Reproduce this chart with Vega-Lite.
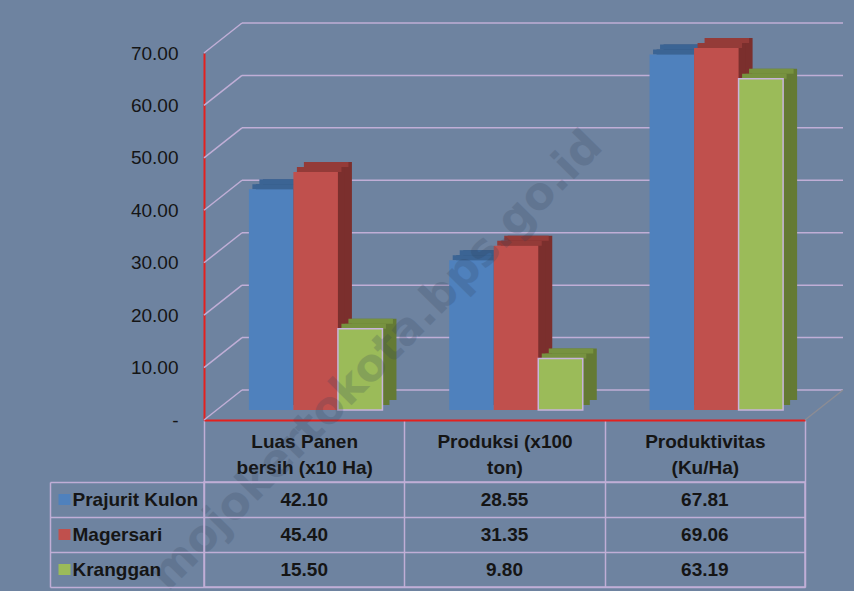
{
  "$schema": "https://vega.github.io/schema/vega-lite/v6.json",
  "background": "#6e83a0",
  "padding": {"left": 48, "top": 22, "right": 10, "bottom": 4},
  "bounds": "flush",
  "spacing": 62,
  "config": {
    "font": "Liberation Sans, sans-serif",
    "axis": {"labelFont": "Liberation Sans, sans-serif"}
  },
  "datasets": {
    "vals": [
      {"kategori": "Luas Panen bersih (x10 Ha)", "desa": "Prajurit Kulon", "nilai": 42.10},
      {"kategori": "Luas Panen bersih (x10 Ha)", "desa": "Magersari", "nilai": 45.40},
      {"kategori": "Luas Panen bersih (x10 Ha)", "desa": "Kranggan", "nilai": 15.50},
      {"kategori": "Produksi (x100 ton)", "desa": "Prajurit Kulon", "nilai": 28.55},
      {"kategori": "Produksi (x100 ton)", "desa": "Magersari", "nilai": 31.35},
      {"kategori": "Produksi (x100 ton)", "desa": "Kranggan", "nilai": 9.80},
      {"kategori": "Produktivitas (Ku/Ha)", "desa": "Prajurit Kulon", "nilai": 67.81},
      {"kategori": "Produktivitas (Ku/Ha)", "desa": "Magersari", "nilai": 69.06},
      {"kategori": "Produktivitas (Ku/Ha)", "desa": "Kranggan", "nilai": 63.19}
    ],
    "grid": [{"v": 0}, {"v": 10}, {"v": 20}, {"v": 30}, {"v": 40}, {"v": 50}, {"v": 60}, {"v": 70}]
  },
  "vconcat": [
    {
      "width": 601,
      "height": 367,
      "view": {"stroke": null},
      "resolve": {"scale": {"color": "independent", "xOffset": "independent"}},
      "layer": [
        {
          "data": {"name": "grid"},
          "mark": {"type": "rule", "color": "#c0aed6", "strokeWidth": 1.5, "x2Offset": 138.17, "yOffset": -30, "y2Offset": -30},
          "encoding": {
            "x": {"datum": "Luas Panen bersih (x10 Ha)", "type": "nominal", "bandPosition": 0.1897, "title": null,
              "scale": {"domain": ["Luas Panen bersih (x10 Ha)", "Produksi (x100 ton)", "Produktivitas (Ku/Ha)"], "paddingInner": 0, "paddingOuter": 0},
              "axis": {"title": null, "labelAngle": 0, "labelFontSize": 19, "labelFontWeight": "bold", "labelColor": "#151515",
                "labelExpr": "datum.extra ? '' : datum.value == 'Luas Panen bersih (x10 Ha)' ? ['Luas Panen', 'bersih (x10 Ha)'] : datum.value == 'Produksi (x100 ton)' ? ['Produksi (x100', 'ton)'] : datum.value == 'Produktivitas (Ku/Ha)' ? ['Produktivitas', '(Ku/Ha)'] : ''",
                "labelLineHeight": 26, "labelPadding": -50, "labelBaseline": "top",
                "tickBand": "extent", "tickSize": 62, "tickColor": "#c0aed6", "tickWidth": 1.5,
                "domainColor": "#e3211e", "domainWidth": 2}},
            "x2": {"datum": "Produktivitas (Ku/Ha)"},
            "y": {"field": "v", "type": "quantitative", "title": null, "scale": {"domain": [0, 70], "nice": false},
              "axis": {"title": null, "values": [0, 10, 20, 30, 40, 50, 60, 70], "format": ".2f",
                "labelExpr": "datum.value == 0 ? '-' : datum.label", "labelFlush": false,
                "grid": false, "ticks": false, "domainColor": "#e3211e", "domainWidth": 2,
                "labelFontSize": 19, "labelColor": "#151515", "labelPadding": 26, "labelBaseline": "middle", "labelDy": 7.5}},
            "y2": {"field": "v"}
          }
        },
        {
          "data": {"name": "grid"},
          "mark": {"type": "rule", "color": "#c0aed6", "strokeWidth": 1.5, "x2Offset": -62.17, "y2Offset": -30},
          "encoding": {
            "x": {"datum": "Luas Panen bersih (x10 Ha)", "type": "nominal", "bandPosition": 0, "title": null},
            "x2": {"datum": "Luas Panen bersih (x10 Ha)"},
            "y": {"field": "v", "type": "quantitative", "title": null},
            "y2": {"field": "v"}
          }
        },
        {
          "data": {"values": [{"v": 0}]},
          "mark": {"type": "rule", "color": "#8c8c94", "strokeWidth": 1.5, "x2Offset": 138.17, "y2Offset": -30},
          "encoding": {
            "x": {"datum": "Produktivitas (Ku/Ha)", "type": "nominal", "bandPosition": 1, "title": null},
            "x2": {"datum": "Produktivitas (Ku/Ha)"},
            "y": {"field": "v", "type": "quantitative", "title": null},
            "y2": {"field": "v"}
          }
        },
        {
          "data": {"name": "vals"},
          "mark": {"type": "bar", "yOffset": -20, "y2Offset": -20},
          "encoding": {
            "x": {"field": "kategori", "type": "nominal", "title": null},
            "xOffset": {"field": "desa", "type": "nominal", "scale": {"domain": ["Prajurit Kulon", "Magersari", "Kranggan"], "paddingInner": 0, "paddingOuter": 0.75, "align": 0.8818}},
            "y": {"field": "nilai", "type": "quantitative", "title": null},
            "color": {"field": "desa", "type": "nominal", "legend": null, "scale": {"domain": ["Prajurit Kulon", "Magersari", "Kranggan"], "range": ["#325581", "#7b2f2d", "#647a34"]}}
          }
        },
        {
          "data": {"name": "vals"},
          "mark": {"type": "bar", "yOffset": -15, "y2Offset": -15},
          "encoding": {
            "x": {"field": "kategori", "type": "nominal", "title": null},
            "xOffset": {"field": "desa", "type": "nominal", "scale": {"domain": ["Prajurit Kulon", "Magersari", "Kranggan"], "paddingInner": 0, "paddingOuter": 0.75, "align": 0.777}},
            "y": {"field": "nilai", "type": "quantitative", "title": null},
            "color": {"field": "desa", "type": "nominal", "legend": null, "scale": {"domain": ["Prajurit Kulon", "Magersari", "Kranggan"], "range": ["#325581", "#7b2f2d", "#647a34"]}}
          }
        },
        {
          "data": {"name": "vals"},
          "mark": {"type": "bar", "yOffset": -20, "y2Offset": -15},
          "encoding": {
            "x": {"field": "kategori", "type": "nominal", "title": null},
            "xOffset": {"field": "desa", "type": "nominal", "scale": {"domain": ["Prajurit Kulon", "Magersari", "Kranggan"], "paddingInner": 0, "paddingOuter": 0.75, "align": 0.8294}},
            "y": {"field": "nilai", "type": "quantitative", "title": null},
            "y2": {"field": "nilai"},
            "color": {"field": "desa", "type": "nominal", "legend": null, "scale": {"domain": ["Prajurit Kulon", "Magersari", "Kranggan"], "range": ["#3b6494", "#943b38", "#77923f"]}}
          }
        },
        {
          "data": {"name": "vals"},
          "mark": {"type": "bar", "yOffset": -15, "y2Offset": -10},
          "encoding": {
            "x": {"field": "kategori", "type": "nominal", "title": null},
            "xOffset": {"field": "desa", "type": "nominal", "scale": {"domain": ["Prajurit Kulon", "Magersari", "Kranggan"], "paddingInner": 0, "paddingOuter": 0.75, "align": 0.7246}},
            "y": {"field": "nilai", "type": "quantitative", "title": null},
            "y2": {"field": "nilai"},
            "color": {"field": "desa", "type": "nominal", "legend": null, "scale": {"domain": ["Prajurit Kulon", "Magersari", "Kranggan"], "range": ["#3b6494", "#943b38", "#77923f"]}}
          }
        },
        {
          "data": {"name": "vals"},
          "mark": {"type": "bar", "yOffset": -10, "y2Offset": -10, "strokeWidth": 1.5},
          "encoding": {
            "x": {"field": "kategori", "type": "nominal", "title": null},
            "xOffset": {"field": "desa", "type": "nominal", "scale": {"domain": ["Prajurit Kulon", "Magersari", "Kranggan"], "paddingInner": 0, "paddingOuter": 0.75, "align": 0.6722}},
            "y": {"field": "nilai", "type": "quantitative", "title": null},
            "color": {"field": "desa", "type": "nominal", "legend": null, "scale": {"domain": ["Prajurit Kulon", "Magersari", "Kranggan"], "range": ["#4f81bd", "#c0504d", "#9bbb59"]}},
            "stroke": {"condition": {"test": "datum.desa === 'Kranggan'", "value": "#c9b4dc"}, "value": "transparent"}
          }
        },
        {
          "data": {"values": [{"t": "mojokertokota.bps.go.id"}]},
          "mark": {"type": "text", "angle": -45.5, "fontSize": 45, "fontWeight": "bold", "font": "DejaVu Sans", "fill": "#2e3f58", "opacity": 0.2, "align": "center", "baseline": "middle"},
          "encoding": {
            "x": {"datum": "Luas Panen bersih (x10 Ha)", "type": "nominal", "bandPosition": 0.86, "title": null},
            "y": {"datum": 11.4, "type": "quantitative", "title": null},
            "text": {"field": "t"}
          }
        }
      ]
    },
    {
      "width": 601,
      "height": 105,
      "view": {"stroke": "#c0aed6", "strokeWidth": 1.5},
      "data": {"name": "vals"},
      "resolve": {"axis": {"y": "independent"}},
      "layer": [
        {
          "mark": {"type": "text", "fontSize": 19, "fontWeight": "bold", "color": "#151515", "baseline": "middle"},
          "encoding": {
            "x": {"field": "kategori", "type": "nominal",
              "scale": {"domain": ["Luas Panen bersih (x10 Ha)", "Produksi (x100 ton)", "Produktivitas (Ku/Ha)"], "paddingInner": 0, "paddingOuter": 0},
              "axis": {"title": null, "orient": "top", "labels": false, "ticks": false, "domain": false, "grid": true, "tickBand": "extent", "gridColor": "#c0aed6", "gridWidth": 1.5}},
            "y": {"field": "desa", "type": "nominal",
              "scale": {"domain": ["Prajurit Kulon", "Magersari", "Kranggan"], "paddingInner": 0, "paddingOuter": 0},
              "axis": {"title": null, "orient": "left", "domain": false, "grid": true, "gridColor": "#c0aed6", "gridWidth": 1.5,
                "tickBand": "extent", "tickSize": 154, "tickColor": "#c0aed6", "tickWidth": 1.5,
                "labelAlign": "left", "labelPadding": -22, "labelFontSize": 19, "labelFontWeight": "bold", "labelColor": "#151515", "labelBaseline": "middle"}},
            "text": {"field": "nilai", "type": "quantitative", "format": ".2f"}
          }
        },
        {
          "mark": {"type": "text", "text": ""},
          "encoding": {
            "y": {"field": "desa", "type": "nominal",
              "axis": {"title": null, "orient": "left", "offset": 134, "domain": false, "grid": false, "labels": false,
                "tickSize": 12, "tickWidth": 11, "tickCap": "butt",
                "tickColor": {"condition": [{"test": "datum.value === 'Prajurit Kulon'", "value": "#4f81bd"}, {"test": "datum.value === 'Magersari'", "value": "#c0504d"}], "value": "#9bbb59"}}}
          }
        },
        {
          "mark": {"type": "text", "text": ""},
          "encoding": {
            "y": {"field": "desa", "type": "nominal",
              "axis": {"title": null, "orient": "left", "offset": 154, "domain": true, "domainColor": "#c0aed6", "domainWidth": 1.5, "grid": false, "labels": false, "ticks": false}}
          }
        }
      ]
    }
  ]
}
